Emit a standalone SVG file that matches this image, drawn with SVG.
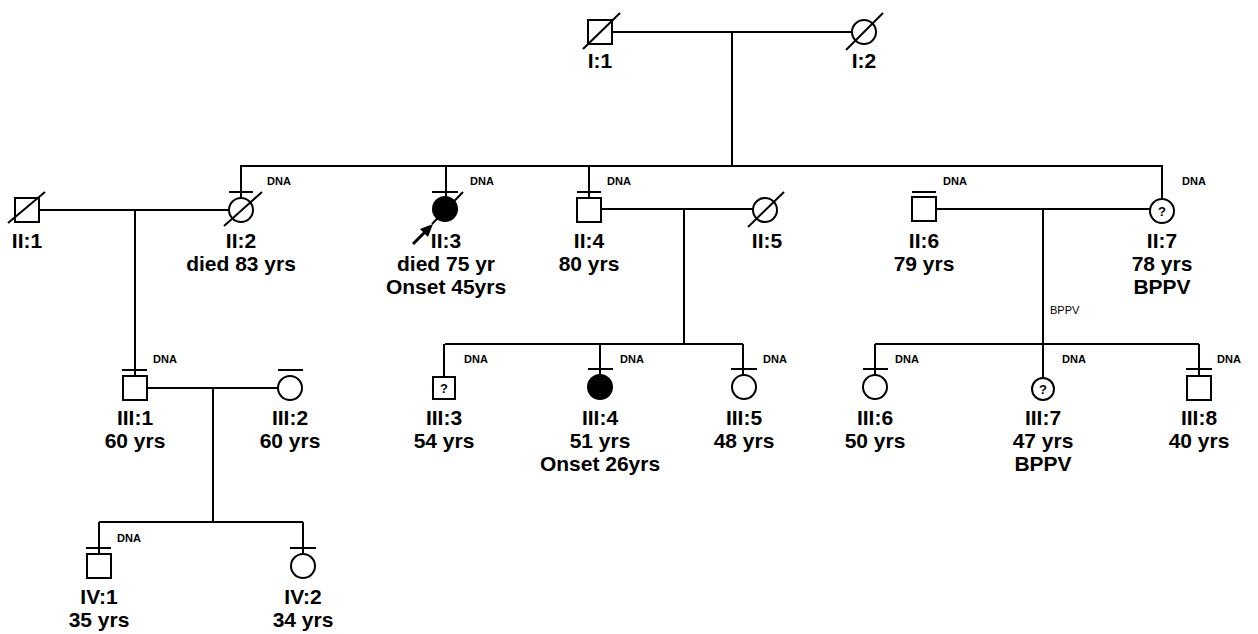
<svg xmlns="http://www.w3.org/2000/svg" width="1258" height="634" viewBox="0 0 1258 634">
<style>
.ln{stroke:#000;stroke-width:2;fill:none}
.sym{stroke:#000;stroke-width:2;fill:#fff}
.aff{stroke:#000;stroke-width:2;fill:#000}
.lbl{font-family:"Liberation Sans",Arial,sans-serif;font-weight:bold;font-size:21px;text-anchor:middle;fill:#000}
.dna{font-family:"Liberation Sans",Arial,sans-serif;font-weight:bold;font-size:11px;fill:#000}
.q{font-family:"Liberation Sans",Arial,sans-serif;font-weight:bold;font-size:13px;text-anchor:middle;fill:#000}
.sm{font-family:"Liberation Sans",Arial,sans-serif;font-size:11px;fill:#000}
</style>
<rect width="1258" height="634" fill="#fff"/>
<g id="connectors">
<path class="ln" d="M612 32H852M732 32V166"/>
<path class="ln" d="M240 166H1163"/>
<path class="ln" d="M241 166V198M446 166V197M589 166V198M1162 166V199"/>
<path class="ln" d="M40 210H229M135 210V376"/>
<path class="ln" d="M601 209H753M684 209V344"/>
<path class="ln" d="M936 209H1151M1043 209V378"/>
<path class="ln" d="M445 344H743M444 344V377M600 344V375M743 344V375"/>
<path class="ln" d="M875 344H1199M875 344V375M1199 344V376"/>
<path class="ln" d="M147 388H278M213 388V522"/>
<path class="ln" d="M99 522H303M99 522V554M303 522V554"/>
</g>
<g id="I1"><rect class="sym" x="588" y="20" width="24" height="24"/><path class="ln" d="M583 49L620 13"/><text class="lbl" x="600" y="68">I:1</text></g>
<g id="I2"><circle class="sym" cx="864" cy="32" r="12"/><path class="ln" d="M846 50L883 13"/><text class="lbl" x="864" y="68">I:2</text></g>
<g id="II1"><rect class="sym" x="15" y="198" width="24" height="24"/><path class="ln" d="M8 223L45 192"/><text class="lbl" x="27" y="248">II:1</text></g>
<g id="II2"><circle class="sym" cx="241" cy="210" r="12"/><path class="ln" d="M229 192H253M224 226L262 192"/><text class="dna" x="267" y="185">DNA</text><text class="lbl" x="241" y="248">II:2</text><text class="lbl" x="241" y="271">died 83 yrs</text></g>
<g id="II3"><circle class="aff" cx="445" cy="209" r="12"/><path class="ln" d="M432 192H458M463 192L432 224"/><path class="ln" d="M413 244L426 231" style="stroke-width:3"/><polygon points="433,224 420,229 428,237" fill="#000"/><text class="dna" x="470" y="185">DNA</text><text class="lbl" x="446" y="248">II:3</text><text class="lbl" x="446" y="271">died 75 yr</text><text class="lbl" x="446" y="294">Onset 45yrs</text></g>
<g id="II4"><rect class="sym" x="577" y="198" width="24" height="24"/><path class="ln" d="M577 192H601"/><text class="dna" x="607" y="185">DNA</text><text class="lbl" x="589" y="248">II:4</text><text class="lbl" x="589" y="271">80 yrs</text></g>
<g id="II5"><circle class="sym" cx="765" cy="210" r="12"/><path class="ln" d="M748 227L784 192"/><text class="lbl" x="767" y="248">II:5</text></g>
<g id="II6"><rect class="sym" x="912" y="197" width="24" height="24"/><path class="ln" d="M912 192H936"/><text class="dna" x="943" y="185">DNA</text><text class="lbl" x="924" y="248">II:6</text><text class="lbl" x="924" y="271">79 yrs</text></g>
<g id="II7"><circle class="sym" cx="1162" cy="211" r="12"/><text class="q" x="1162" y="216">?</text><text class="dna" x="1182" y="185">DNA</text><text class="lbl" x="1162" y="248">II:7</text><text class="lbl" x="1162" y="271">78 yrs</text><text class="lbl" x="1162" y="294">BPPV</text></g>
<text class="sm" x="1050" y="314">BPPV</text>
<g id="III1"><rect class="sym" x="123" y="376" width="24" height="24"/><path class="ln" d="M122 370H147"/><text class="dna" x="153" y="363">DNA</text><text class="lbl" x="135" y="425">III:1</text><text class="lbl" x="135" y="448">60 yrs</text></g>
<g id="III2"><circle class="sym" cx="290" cy="388" r="12"/><path class="ln" d="M278 370H303"/><text class="lbl" x="290" y="425">III:2</text><text class="lbl" x="290" y="448">60 yrs</text></g>
<g id="III3"><rect class="sym" x="433" y="377" width="22" height="22"/><text class="q" x="444" y="393">?</text><text class="dna" x="464" y="363">DNA</text><text class="lbl" x="444" y="425">III:3</text><text class="lbl" x="444" y="448">54 yrs</text></g>
<g id="III4"><circle class="aff" cx="600" cy="387" r="12"/><path class="ln" d="M588 369H613"/><text class="dna" x="620" y="363">DNA</text><text class="lbl" x="600" y="425">III:4</text><text class="lbl" x="600" y="448">51 yrs</text><text class="lbl" x="600" y="471">Onset 26yrs</text></g>
<g id="III5"><circle class="sym" cx="744" cy="387" r="12"/><path class="ln" d="M731 369H757"/><text class="dna" x="763" y="363">DNA</text><text class="lbl" x="744" y="425">III:5</text><text class="lbl" x="744" y="448">48 yrs</text></g>
<g id="III6"><circle class="sym" cx="875" cy="387" r="12"/><path class="ln" d="M863 369H888"/><text class="dna" x="895" y="363">DNA</text><text class="lbl" x="875" y="425">III:6</text><text class="lbl" x="875" y="448">50 yrs</text></g>
<g id="III7"><circle class="sym" cx="1043" cy="389" r="11"/><text class="q" x="1043" y="394">?</text><text class="dna" x="1062" y="363">DNA</text><text class="lbl" x="1043" y="425">III:7</text><text class="lbl" x="1043" y="448">47 yrs</text><text class="lbl" x="1043" y="471">BPPV</text></g>
<g id="III8"><rect class="sym" x="1187" y="376" width="24" height="24"/><path class="ln" d="M1186 369H1212"/><text class="dna" x="1217" y="363">DNA</text><text class="lbl" x="1199" y="425">III:8</text><text class="lbl" x="1199" y="448">40 yrs</text></g>
<g id="IV1"><rect class="sym" x="87" y="554" width="24" height="24"/><path class="ln" d="M86 548H111"/><text class="dna" x="117" y="542">DNA</text><text class="lbl" x="99" y="604">IV:1</text><text class="lbl" x="99" y="627">35 yrs</text></g>
<g id="IV2"><circle class="sym" cx="303" cy="566" r="12"/><path class="ln" d="M290 548H316"/><text class="lbl" x="303" y="604">IV:2</text><text class="lbl" x="303" y="627">34 yrs</text></g>
</svg>
